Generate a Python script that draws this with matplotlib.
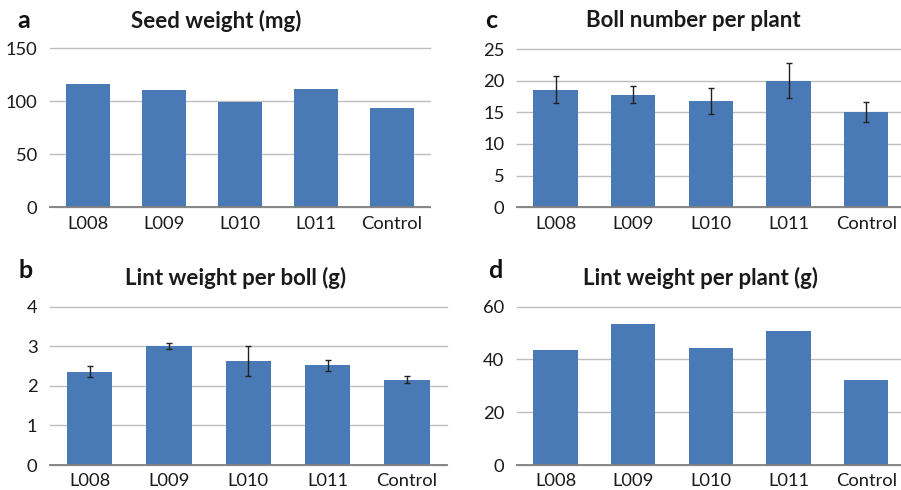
import matplotlib.pyplot as plt
import numpy as np

plt.rcParams['font.family'] = ['Lato', 'DejaVu Sans']

lines = ['L008', 'L009', 'L010', 'L011', 'Control']

seed_weight = [116, 110.5, 99, 112, 93.5]

boll_number = [18.6, 17.8, 16.8, 20.0, 15.0]
boll_number_err = [2.1, 1.35, 2.0, 2.8, 1.6]

lint_per_boll = [2.36, 3.0, 2.62, 2.52, 2.15]
lint_per_boll_err = [0.14, 0.08, 0.38, 0.14, 0.09]

lint_per_plant = [43.6, 53.4, 44.3, 50.7, 32.2]

BAR = '#4A7AB5'
W, H = 901, 490

fig = plt.figure(figsize=(W / 100, H / 100), dpi=100)


def panel(px, ylim, yticks, values, errs, title, title_xy, letter, letter_xy):
    # px = left, top, right, bottom in pixels
    l, t, r, b = px
    ax = fig.add_axes([l / W, 1 - b / H, (r - l) / W, (b - t) / H])
    x = np.arange(len(lines))
    ax.bar(x, values, width=0.57, color=BAR, zorder=3)
    if errs is not None:
        ax.errorbar(x, values, yerr=errs, fmt='none', ecolor='#222222',
                    elinewidth=1.0, capsize=2.5, capthick=1.0, zorder=4)
    ax.set_xlim(-0.5, len(lines) - 0.5)
    ax.set_ylim(*ylim)
    ax.set_yticks(yticks)
    ax.set_xticks(x)
    ax.set_xticklabels(lines)
    ax.yaxis.grid(True, color='#BDBDBD', linewidth=1.0, zorder=0)
    for gl in ax.get_ygridlines():
        gl.set_clip_on(False)
    for s in ['top', 'right', 'left']:
        ax.spines[s].set_visible(False)
    ax.spines['bottom'].set_color('#7F7F7F')
    ax.spines['bottom'].set_linewidth(1.3)
    ax.spines['bottom'].set_zorder(5)
    ax.tick_params(axis='both', length=0, labelsize=13.2, colors='#1a1a1a')
    ax.tick_params(axis='x', pad=6)
    ax.tick_params(axis='y', pad=9)
    fig.text(title_xy[0] / W, 1 - title_xy[1] / H, title, ha='center', va='center',
             fontsize=16, fontweight='bold', color='#1a1a1a')
    fig.text(letter_xy[0] / W, 1 - letter_xy[1] / H, letter, ha='center', va='center',
             fontsize=18, fontweight='bold', color='#111111')
    return ax


panel((50, 48.3, 430, 207.3), (0, 150), [0, 50, 100, 150], seed_weight, None,
      'Seed weight (mg)', (216.5, 21), 'a', (24, 20))
panel((516.7, 49, 905, 207.3), (0, 25), [0, 5, 10, 15, 20, 25], boll_number, boll_number_err,
      'Boll number per plant', (693, 20.5), 'c', (491, 21))
panel((50, 306.7, 446.7, 465), (0, 4), [0, 1, 2, 3, 4], lint_per_boll, lint_per_boll_err,
      'Lint weight per boll (g)', (236, 278), 'b', (26, 271))
panel((516.7, 306.7, 905, 465), (0, 60), [0, 20, 40, 60], lint_per_plant, None,
      'Lint weight per plant (g)', (700.5, 278), 'd', (495, 271))

fig.savefig('out.png', dpi=100, facecolor='white')
